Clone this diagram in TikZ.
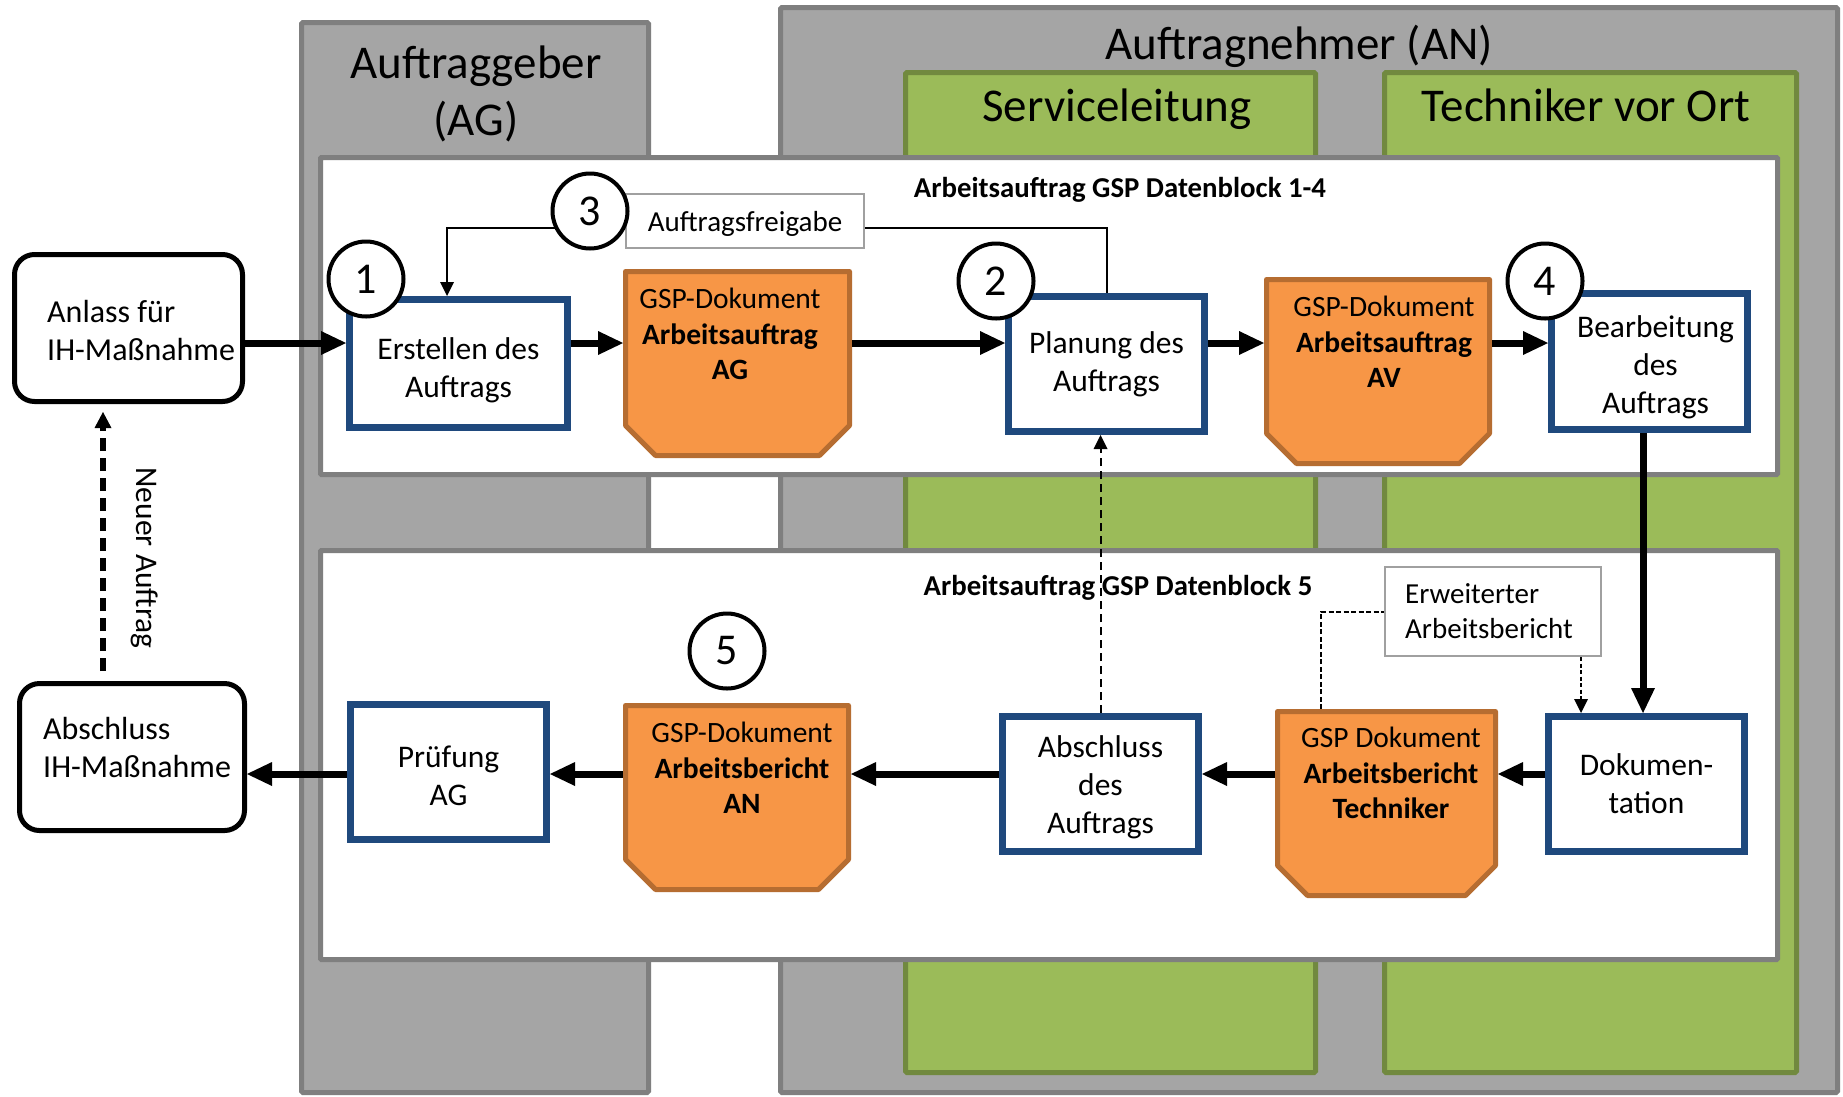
\documentclass[tikz,border=0pt]{standalone}
\usepackage{fontspec}
\setmainfont{Carlito}
\usetikzlibrary{arrows.meta,calc}

\definecolor{panelgray}{HTML}{A5A5A5}
\definecolor{panelline}{HTML}{7F7F7F}
\definecolor{lanegreen}{HTML}{9BBB59}
\definecolor{laneline}{HTML}{71893F}
\definecolor{stepblue}{HTML}{1F497D}
\definecolor{docfill}{HTML}{F79646}
\definecolor{docline}{HTML}{B66D31}
\definecolor{noteline}{HTML}{A0A0A0}

\pgfdeclarelayer{bg}
\pgfsetlayers{bg,main}

% chamfered document outline around an invisible area node
\newcommand\docoutline[1]{%
  \draw[docpoly] (#1.north west) -- (#1.north east)
    -- ($(#1.south east)+(0,-30)$) -- ($(#1.south east)+(-30,0)$)
    -- ($(#1.south west)+(30,0)$) -- ($(#1.south west)+(0,-30)$) -- cycle;}

\begin{document}
\begin{tikzpicture}[x=1pt,y=-1pt,
  panel/.style={fill=panelgray,draw=panelline,line width=5pt,rounded corners=1.5pt},
  lane/.style={fill=lanegreen,draw=laneline,line width=5pt,rounded corners=1.5pt},
  block/.style={fill=white,draw=panelline,line width=5pt,rounded corners=1pt},
  heading/.style={align=center,inner sep=0pt,font=\fontsize{47}{57}\selectfont},
  blocktitle/.style={inner sep=0pt,font=\bfseries\fontsize{28.8}{34}\selectfont},
  stepbox/.style={rectangle,draw=stepblue,fill=white,line width=7pt,inner sep=0pt,
    align=center,font=\fontsize{31.5}{38}\selectfont},
  steptext/.style={align=center,inner sep=0pt,font=\fontsize{31.5}{38}\selectfont},
  docarea/.style={rectangle,inner sep=0pt,outer sep=0pt},
  docpoly/.style={fill=docfill,draw=docline,line width=5pt,line join=round},
  doctext/.style={align=center,inner sep=0pt,font=\fontsize{29.5}{35.5}\selectfont},
  numcircle/.style={circle,draw,fill=white,line width=4pt,minimum size=75pt,inner sep=0pt,
    font=\fontsize{44}{44}\selectfont},
  endbox/.style={rectangle,rounded corners=20pt,draw,fill=white,line width=5pt,inner sep=0pt},
  endtext/.style={align=left,inner sep=0pt,font=\fontsize{32}{38}\selectfont},
  notebox/.style={rectangle,draw=noteline,fill=white,line width=2pt,inner sep=0pt,
    font=\fontsize{29}{35}\selectfont},
  flow/.style={line width=7pt,-{Triangle[length=25pt,width=24pt,line width=0pt]}},
  thinflow/.style={line width=2pt,-{Triangle[length=14pt,width=14pt,line width=0pt]}},
  newflow/.style={line width=5.5pt,dash pattern=on 13pt off 7pt,
    -{Triangle[length=16pt,width=17pt,line width=0pt]}},
]
\useasboundingbox (0,0) rectangle (1843,1096);

% swimlanes and data blocks
\begin{pgfonlayer}{bg}
  \fill[white] (0,0) rectangle (1843,1096);
  \draw[panel] (301.5,22.5) rectangle (648.5,1092.5);
  \draw[panel] (780.5,7.5) rectangle (1837.5,1092.5);
  \draw[lane] (905.5,72.5) rectangle (1315.5,1072.5);
  \draw[lane] (1384.5,72.5) rectangle (1796.5,1072.5);
  \draw[block] (320.5,157.5) rectangle (1777.5,474.5);
  \draw[block] (320.5,550.5) rectangle (1777.5,959.5);
\end{pgfonlayer}

% headings
\node[heading] (agtitle) at (476,94) {Auftraggeber\\(AG)};
\node[heading] (antitle) at (1299,46) {Auftragnehmer (AN)};
\node[heading] (sltitle) at (1117,109) {Serviceleitung};
\node[heading] (tvtitle) at (1586,105) {Techniker vor Ort};
\node[blocktitle] (blk1) at (1120,189.5) {Arbeitsauftrag GSP Datenblock 1-4};
\node[blocktitle] (blk2) at (1118,587.5) {Arbeitsauftrag GSP Datenblock 5};

% helper coordinates for connector rows and columns
\coordinate (row1) at (0,343);
\coordinate (row2) at (0,774);
\coordinate (relL) at (447,228);
\coordinate (col4) at (1643,0);
\coordinate (col5) at (1581,0);
\coordinate (col6) at (1321,0);
\coordinate (newx) at (103,0);

% start and end of the maintenance measure
\node[endbox,minimum width=228pt,minimum height=147pt] (anlass) at (128.5,328) {};
\node[endtext,anchor=west] (anlasstxt) at (47,330) {Anlass für\\IH-Maßnahme};
\node[endbox,minimum width=225pt,minimum height=147pt] (endIH) at (132,757) {};
\node[endtext,anchor=west] (endtxt) at (43,747) {Abschluss\\IH-Maßnahme};
\node[rotate=-90,inner sep=0pt,font=\fontsize{31.5}{38}\selectfont] (neu) at (145,558) {Neuer Auftrag};

% process steps
\node[stepbox,minimum width=218pt,minimum height=128pt] (erst) at (458.5,363.5) {};
\node[steptext] (ersttxt) at ([yshift=-7pt]erst.center) {Erstellen des\\Auftrags};
\node[stepbox,minimum width=196pt,minimum height=135pt] (plan) at (1106.5,364) {Planung des\\Auftrags};
\node[stepbox,minimum width=196pt,minimum height=136pt] (bearb) at (1649.5,361.5) {};
\node[steptext] (bearbtxt) at ([xshift=6pt,yshift=-6pt]bearb.center) {Bearbeitung\\des\\Auftrags};
\node[stepbox,minimum width=196pt,minimum height=135pt] (doku) at (1646.5,784) {Dokumen-\\tation};
\node[stepbox,minimum width=196pt,minimum height=135pt] (absch) at (1100.5,784) {};
\node[steptext] (abschtxt) at ([yshift=-3pt]absch.center) {Abschluss\\des\\Auftrags};
\node[stepbox,minimum width=196pt,minimum height=135pt] (pruef) at (448.5,772) {};
\node[steptext] (prueftxt) at ([yshift=-4pt]pruef.center) {Prüfung\\AG};

% documents
\node[docarea,minimum width=224pt,minimum height=184pt] (agdoc) at (737.5,363.5) {};
\node[docarea,minimum width=223pt,minimum height=184pt] (avdoc) at (1378,371.5) {};
\node[docarea,minimum width=223pt,minimum height=184pt] (andoc) at (737,797.5) {};
\node[docarea,minimum width=218pt,minimum height=184pt] (tedoc) at (1386.5,803.5) {};
\docoutline{agdoc}
\docoutline{avdoc}
\docoutline{andoc}
\docoutline{tedoc}
\node[doctext] (agtxt) at (730,334) {GSP-Dokument\\\textbf{Arbeitsauftrag}\\\textbf{AG}};
\node[doctext] (avtxt) at (1384,342) {GSP-Dokument\\\textbf{Arbeitsauftrag}\\\textbf{AV}};
\node[doctext] (antxt) at (742,768) {GSP-Dokument\\\textbf{Arbeitsbericht}\\\textbf{AN}};
\node[doctext] (tetxt) at (1391,773) {GSP Dokument\\\textbf{Arbeitsbericht}\\\textbf{Techniker}};

% notes
\node[notebox,minimum width=238pt,minimum height=54pt] (freig) at (745,221) {};
\node[inner sep=0pt,font=\fontsize{29}{35}\selectfont] (freigtxt) at ([yshift=-3pt]freig.center) {Auftragsfreigabe};
\node[notebox,minimum width=216pt,minimum height=89pt,align=left] (erw) at (1493,611.5) {};
\node[inner sep=0pt,align=left,font=\fontsize{29}{35}\selectfont] (erwtxt) at ([xshift=-4pt]erw.center) {Erweiterter\\Arbeitsbericht};

% step numbers
\node[numcircle] (c1) at (366,279) {1};
\node[numcircle] (c2) at (996,281) {2};
\node[numcircle] (c3) at (590,211) {3};
\node[numcircle] (c4) at (1545,281) {4};
\node[numcircle] (c5) at (727,651) {5};

% main flow
\draw[flow] (anlass.east |- row1) -- (erst.west |- row1);
\draw[flow,shorten >=2.5pt] (erst.east |- row1) -- (agdoc.west |- row1);
\draw[flow,shorten <=2.5pt] (agdoc.east |- row1) -- (plan.west |- row1);
\draw[flow,shorten >=2.5pt] (plan.east |- row1) -- (avdoc.west |- row1);
\draw[flow,shorten <=2.5pt] (avdoc.east |- row1) -- (bearb.west |- row1);
\draw[flow] (bearb.south -| col4) -- (doku.north -| col4);
\draw[flow,shorten >=2.5pt] (doku.west |- row2) -- (tedoc.east |- row2);
\draw[flow,shorten <=2.5pt] (tedoc.west |- row2) -- (absch.east |- row2);
\draw[flow,shorten >=2.5pt] (absch.west |- row2) -- (andoc.east |- row2);
\draw[flow,shorten <=2.5pt] (andoc.west |- row2) -- (pruef.east |- row2);
\draw[flow] (pruef.west |- row2) -- (endIH.east |- row2);
\draw[newflow,shorten <=10pt,shorten >=8pt] (endIH.north -| newx) -- (anlass.south -| newx);

% release and report connectors, behind the boxes
\begin{pgfonlayer}{bg}
  \draw[thinflow] (plan.north) |- (relL) -- (erst.north -| relL);
  \draw[thinflow,dash pattern=on 8pt off 5pt] (absch.north) -- (plan.south -| absch.north);
  \draw[line width=2pt,dash pattern=on 5pt off 2.5pt,shorten <=2.5pt] (tedoc.north -| col6) |- (erw.west);
  \draw[thinflow,dash pattern=on 4pt off 2.5pt] (erw.south -| col5) -- (doku.north -| col5);
\end{pgfonlayer}
\end{tikzpicture}
\end{document}
